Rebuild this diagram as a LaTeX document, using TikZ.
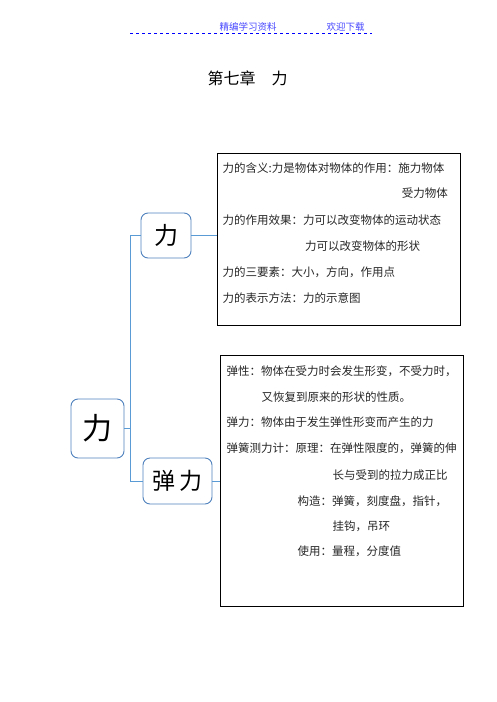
\documentclass[tikz,border=0pt]{standalone}
\usepackage{fontspec}
\setmainfont{Noto Sans CJK SC}
\usetikzlibrary{positioning}
\definecolor{branchblue}{RGB}{79,129,189}
\definecolor{linkblue}{RGB}{91,155,213}
\definecolor{headblue}{RGB}{70,70,255}
\tikzset{
  topic/.style={draw=branchblue, line width=0.9pt, rounded corners=7pt, fill=white, inner sep=0pt},
  notebox/.style={draw, line width=0.9pt, inner sep=0pt},
  noteline/.style={anchor=west, inner sep=0pt, font=\fontsize{11.5}{13}\selectfont, text=black!85},
  link/.style={draw=linkblue, line width=0.8pt},
}
\begin{document}
\begin{tikzpicture}[x=1pt, y=-1pt]
  \useasboundingbox (0,0) rectangle (496,702);
  % page header
  \node[text=headblue, font=\fontsize{9.5}{10}\selectfont, inner sep=0pt] (hd1) at (248,27) {精编学习资料};
  \node[text=headblue, font=\fontsize{9.5}{10}\selectfont, inner sep=0pt] (hd2) at (345.5,27) {欢迎下载};
  \coordinate (hl) at (130,33);
  \coordinate (hr) at (372,33);
  \draw[blue, dashed, line width=0.7pt] (hl) -- (hr);
  \node[font=\fontsize{16}{18}\selectfont, inner sep=0pt] (title) at (247.5,78) {第七章\hspace{1em}力};

  % topics
  \node[topic, minimum width=53pt, minimum height=59pt, font=\fontsize{30}{32}\selectfont] (root) at (97.5,428.5) {力};
  \node[topic, minimum width=50pt, minimum height=45pt, font=\fontsize{24}{26}\selectfont] (li) at (166,235.5) {力};
  \node[topic, minimum width=69pt, minimum height=46pt, font=\fontsize{23}{25}\selectfont] (tanli) at (177.5,481) {弹\,力};

  % note boxes
  \node[notebox, minimum width=243pt, minimum height=172pt] (box1) at (338.5,239) {};
  \node[notebox, minimum width=242.5pt, minimum height=251.5pt] (box2) at (342,481) {};

  % connectors
  \coordinate (fork) at (130,428.5);
  \draw[link] (root.east) -- (fork) |- (li.west);
  \draw[link] (fork) |- (tanli.west);
  \draw[link] (li.east) -- (li.east -| box1.west);
  \draw[link] (tanli.east) -- (tanli.east -| box2.west);

  % text of box 1
  \node[noteline] (a1) at (222.5,168) {力的含义:力是物体对物体的作用：施力物体};
  \node[noteline, anchor=east] (a2) at (448,193.5) {受力物体};
  \node[noteline] (a3) at (222.5,220) {力的作用效果：力可以改变物体的运动状态};
  \node[noteline] (a4) at (305,246) {力可以改变物体的形状};
  \node[noteline] (a5) at (222.5,272) {力的三要素：大小，方向，作用点};
  \node[noteline] (a6) at (222.5,298) {力的表示方法：力的示意图};

  % text of box 2
  \node[noteline] (b1) at (226.5,371.5) {弹性：物体在受力时会发生形变，不受力时，};
  \node[noteline] (b2) at (261.5,397) {又恢复到原来的形状的性质。};
  \node[noteline] (b3) at (226.5,422.5) {弹力：物体由于发生弹性形变而产生的力};
  \node[noteline] (b4) at (226.5,448) {弹簧测力计：原理：在弹性限度的，弹簧的伸};
  \node[noteline] (b5) at (332.5,475) {长与受到的拉力成正比};
  \node[noteline] (b6) at (297.5,501.5) {构造：弹簧，刻度盘，指针，};
  \node[noteline] (b7) at (332.5,526.5) {挂钩，吊环};
  \node[noteline] (b8) at (297.5,551.5) {使用：量程，分度值};
\end{tikzpicture}
\end{document}
